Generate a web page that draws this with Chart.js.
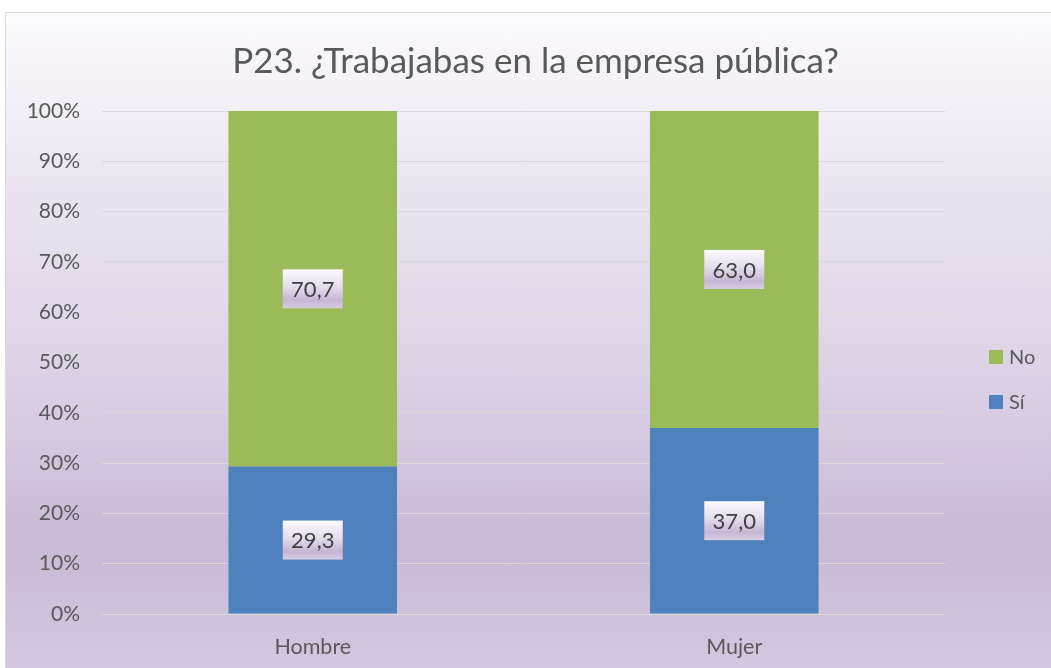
<!DOCTYPE html>
<html>
<head>
<meta charset="utf-8">
<script src="https://cdn.jsdelivr.net/npm/chart.js@4"></script>
<style>
  html, body { margin: 0; padding: 0; background: #fff; }
  #frame {
    position: absolute; left: 5px; top: 12px;
    width: 1046px; height: 656px;
    border: 1px solid #d9d9d9; border-right: none; border-bottom: none;
    background: linear-gradient(to bottom, #fcfbfd 0%, #ece6f1 25%, #dcd2e5 55%, #c9bad7 80%, #d3c8df 100%);
  }
  canvas { display: block; }
</style>
</head>
<body>
<div id="frame"><canvas id="chart" width="1045" height="655"></canvas></div>
<script>
// ─── DATA ───────────────────────────────────────────────────────────
const categories = ['Hombre', 'Mujer'];
const siValues = [29.3, 37.0];
const noValues = [70.7, 63.0];
const seriesNames = ['Sí', 'No'];
const yTicks = [0, 10, 20, 30, 40, 50, 60, 70, 80, 90, 100];
const chartTitle = 'P23. ¿Trabajabas en la empresa pública?';

const FONT = 'Lato, "Open Sans", sans-serif';
const TEXT = '#595959';

const fmtVal = v => v.toFixed(1).replace('.', ',');

// title centred over the whole canvas (not just the plot + legend box)
const wideTitle = {
  id: 'wideTitle',
  afterDraw(chart) {
    const ctx = chart.ctx;
    ctx.save();
    ctx.font = '35px ' + FONT;
    ctx.fillStyle = TEXT;
    ctx.textAlign = 'center';
    ctx.textBaseline = 'middle';
    ctx.fillText(chartTitle, chart.width / 2 + 7, 49);
    ctx.restore();
  }
};

// value boxes drawn in the middle of every segment
const valueBoxes = {
  id: 'valueBoxes',
  afterDatasetsDraw(chart) {
    const ctx = chart.ctx;
    const w = 60, h = 39;
    chart.data.datasets.forEach((ds, i) => {
      chart.getDatasetMeta(i).data.forEach((bar, j) => {
        const { x, y, base } = bar.getProps(['x', 'y', 'base'], true);
        const cy = (y + base) / 2;
        const g = ctx.createLinearGradient(0, cy - h / 2, 0, cy + h / 2);
        g.addColorStop(0, '#fbfafd');
        g.addColorStop(0.45, '#e4dcec');
        g.addColorStop(0.8, '#c6b6d6');
        g.addColorStop(1, '#d8cee3');
        ctx.save();
        ctx.fillStyle = g;
        ctx.fillRect(x - w / 2, cy - h / 2, w, h);
        ctx.fillStyle = '#404040';
        ctx.font = '22px ' + FONT;
        ctx.textAlign = 'center';
        ctx.textBaseline = 'middle';
        ctx.fillText(fmtVal(ds.data[j]), x, cy + 1);
        ctx.restore();
      });
    });
  }
};

// legend on the right, last series on top
const sideLegend = {
  id: 'sideLegend',
  afterDraw(chart) {
    const ctx = chart.ctx;
    const x0 = chart.chartArea.right + 44;
    let y = 344;
    ctx.save();
    ctx.font = '20px ' + FONT;
    ctx.textBaseline = 'middle';
    [...chart.data.datasets].reverse().forEach(ds => {
      ctx.fillStyle = ds.backgroundColor;
      ctx.fillRect(x0, y - 7, 14, 14);
      ctx.fillStyle = TEXT;
      ctx.fillText(ds.label, x0 + 20, y + 1);
      y += 45;
    });
    ctx.restore();
  }
};

new Chart(document.getElementById('chart'), {
  type: 'bar',
  data: {
    labels: categories,
    datasets: [
      { label: seriesNames[0], data: siValues, backgroundColor: '#4f81bd' },
      { label: seriesNames[1], data: noValues, backgroundColor: '#9bbb59' }
    ]
  },
  options: {
    responsive: false,
    animation: false,
    layout: { padding: { left: 0, right: 106, top: 98, bottom: 8 } },
    datasets: { bar: { categoryPercentage: 0.8, barPercentage: 0.5 } },
    plugins: {
      legend: { display: false },
      tooltip: { enabled: false },
      title: { display: false }
    },
    scales: {
      x: {
        stacked: true,
        afterFit: s => { s.height = 46; },
        grid: { display: false, drawTicks: false },
        border: { display: false },
        ticks: { color: TEXT, font: { family: FONT, size: 21.5 }, padding: 20 }
      },
      y: {
        stacked: true,
        min: 0, max: 100,
        afterFit: s => { s.width = 96; },
        afterBuildTicks: s => { s.ticks = yTicks.map(v => ({ value: v })); },
        grid: { color: '#d9d9d9', lineWidth: 1, drawTicks: false },
        border: { display: false },
        ticks: { color: TEXT, font: { family: FONT, size: 21 }, padding: 22, callback: v => v + '%' }
      }
    }
  },
  plugins: [valueBoxes, sideLegend, wideTitle]
});
</script>
</body>
</html>
